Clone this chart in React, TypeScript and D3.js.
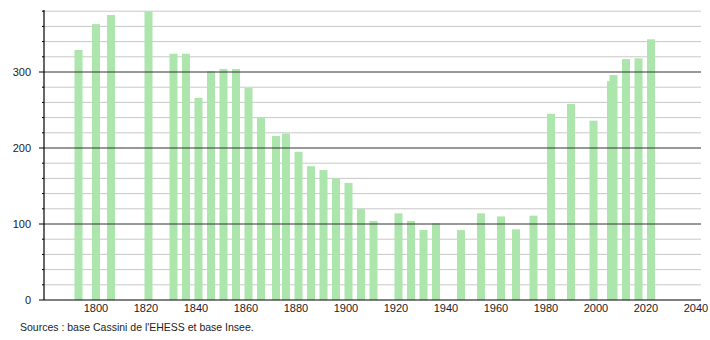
import React from "react";
import * as d3 from "d3";

const years = [1793, 1800, 1806, 1821, 1831, 1836, 1841, 1846, 1851, 1856, 1861, 1866, 1872, 1876, 1881, 1886, 1891, 1896, 1901, 1906, 1911, 1921, 1926, 1931, 1936, 1946, 1954, 1962, 1968, 1975, 1982, 1990, 1999, 2006, 2007, 2012, 2017, 2022];
const population = [329, 363, 375, 380, 324, 324, 266, 301, 304, 304, 279, 240, 216, 219, 195, 176, 171, 160, 154, 120, 104, 114, 104, 92, 101, 92, 114, 110, 93, 111, 245, 258, 236, 288, 296, 317, 318, 343];
const xTicks = [1800, 1820, 1840, 1860, 1880, 1900, 1920, 1940, 1960, 1980, 2000, 2020, 2040];
const yMajor = [0, 100, 200, 300];
const yMinor = d3.range(20, 381, 20).filter((v) => v % 100 !== 0);
const sourceText = "Sources : base Cassini de l'EHESS et base Insee.";

export default function App() {
  const W = 710, H = 340;
  const left = 44, right = 701, bottom = 300, top = 11.2;
  const x = d3.scaleLinear().domain([1779.2, 2042]).range([left, right]);
  const y = d3.scaleLinear().domain([0, 380]).range([bottom, top]);
  const bw = 8;
  const font = "'Liberation Sans', Arial, sans-serif";
  return (
    <svg width={W} height={H} style={{ position: "absolute", left: 0, top: 0 }} fontFamily={font}>
      <rect width={W} height={H} fill="#fff" />
      {yMinor.map((v) => (
        <line key={"m" + v} x1={left} x2={right} y1={y(v)} y2={y(v)} stroke="#c8c8c8" strokeWidth={1} />
      ))}
      {population.map((p, i) => (
        <rect key={years[i]} x={x(years[i]) - bw / 2} y={y(p)} width={bw} height={bottom - y(p)} fill="#ace6ac" />
      ))}
      {yMajor.filter((v) => v > 0).map((v) => (
        <line key={"M" + v} x1={left} x2={right} y1={y(v)} y2={y(v)} stroke="#333" strokeWidth={1} />
      ))}
      {yMinor.map((v) => (
        <line key={"tm" + v} x1={left - 2} x2={left} y1={y(v)} y2={y(v)} stroke="#000" strokeWidth={1} />
      ))}
      {yMajor.map((v) => (
        <g key={"tM" + v}>
          <line x1={left - 5} x2={left} y1={y(v)} y2={y(v)} stroke="#000" strokeWidth={1} />
          <text x={31} y={y(v) + 4} textAnchor="end" fontSize={11} fill="#222">{v}</text>
        </g>
      ))}
      <line x1={left} x2={left} y1={10} y2={bottom} stroke="#000" strokeWidth={1.2} />
      <line x1={left} x2={right} y1={bottom} y2={bottom} stroke="#000" strokeWidth={1.2} />
      {xTicks.map((t) => (
        <text key={t} x={x(t)} y={312} textAnchor="middle" fontSize={11} fill="#222">{t}</text>
      ))}
      <text x={20} y={331} fontSize={10.5} fill="#222">{sourceText}</text>
    </svg>
  );
}
